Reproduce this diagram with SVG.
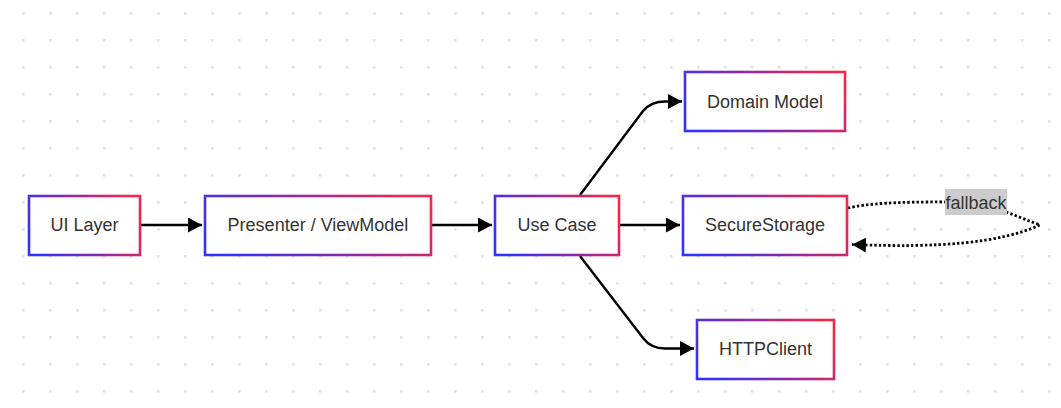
<svg xmlns="http://www.w3.org/2000/svg" width="1061" height="408" viewBox="0 0 1061 408">
  <style>
    .box { fill: #ffffff; stroke: url(#border); stroke-width: 2.6; }
    .label { font-family: "Liberation Sans", Arial, sans-serif; font-size: 18px; fill: #333333; text-anchor: middle; }
    .edge { fill: none; stroke: #000000; stroke-width: 2.4; }
    .dotted { fill: none; stroke: #000000; stroke-width: 2.8; stroke-dasharray: 2.4 2.2; }
  </style>
  <defs>
    <pattern id="grid" x="0" y="0" width="27" height="27" patternUnits="userSpaceOnUse">
      <rect x="22" y="12" width="2.6" height="2.6" fill="#e2e2e2"/>
    </pattern>
    <linearGradient id="border" x1="0" y1="0.65" x2="1" y2="0.35">
      <stop offset="0" stop-color="#3333fb"/>
      <stop offset="0.5" stop-color="#8a2aa8"/>
      <stop offset="1" stop-color="#f6264a"/>
    </linearGradient>
    <marker id="arrow" viewBox="0 0 14 15" refX="14" refY="7.5" markerWidth="14" markerHeight="15" markerUnits="userSpaceOnUse" orient="auto">
      <path d="M0,0 L14,7.5 L0,15 z" fill="#000000"/>
    </marker>
  </defs>

  <rect x="0" y="0" width="1061" height="408" fill="#ffffff"/>
  <rect x="0" y="0" width="1061" height="408" fill="url(#grid)"/>

  <g id="connectors">
    <path class="edge" d="M141,225 L202,225" marker-end="url(#arrow)"/>
    <path class="edge" d="M432,225 L492,225" marker-end="url(#arrow)"/>
    <path class="edge" d="M619,225 L680,225" marker-end="url(#arrow)"/>
    <path class="edge" d="M580,195 L643,111 Q651,101.5 665,101.5 L682,101.5" marker-end="url(#arrow)"/>
    <path class="edge" d="M580,256 L643,338 Q651,348.5 665,348.5 L694,348.5" marker-end="url(#arrow)"/>
    <path class="dotted" d="M848,208 Q875,201.5 946,202"/>
    <path class="dotted" d="M1006,212 L1040,225 C1000,243 940,248 852,244.5" marker-end="url(#arrow)"/>
    <g id="fallback-label">
      <rect x="945" y="189" width="62" height="26" fill="#cccccc"/>
      <text class="label" x="976" y="208.5">fallback</text>
    </g>
  </g>

  <g id="ui-layer">
    <rect class="box" x="29" y="196" width="111" height="59"/>
    <text class="label" x="84.5" y="231">UI Layer</text>
  </g>
  <g id="presenter">
    <rect class="box" x="205" y="196" width="226" height="59"/>
    <text class="label" x="318" y="231">Presenter / ViewModel</text>
  </g>
  <g id="use-case">
    <rect class="box" x="495" y="196" width="124" height="59"/>
    <text class="label" x="557" y="231">Use Case</text>
  </g>
  <g id="domain-model">
    <rect class="box" x="685" y="72" width="160" height="59"/>
    <text class="label" x="765" y="107.5">Domain Model</text>
  </g>
  <g id="secure-storage">
    <rect class="box" x="683" y="196" width="164" height="59"/>
    <text class="label" x="765" y="231">SecureStorage</text>
  </g>
  <g id="http-client">
    <rect class="box" x="697" y="320" width="137" height="59"/>
    <text class="label" x="765.5" y="355">HTTPClient</text>
  </g>
</svg>
